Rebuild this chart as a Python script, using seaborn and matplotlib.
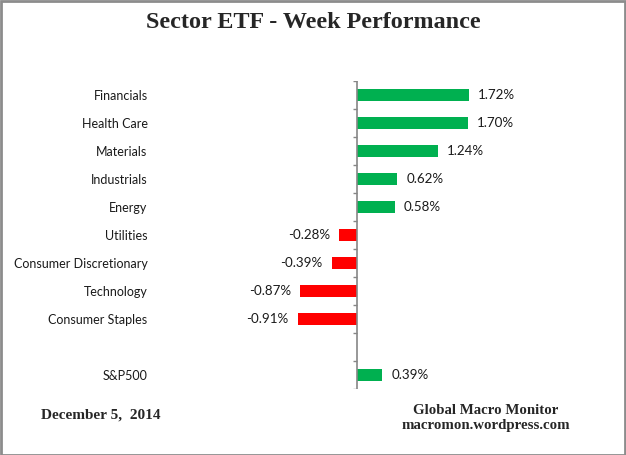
import matplotlib
matplotlib.use("Agg")
import matplotlib.pyplot as plt
import seaborn as sns
import pandas as pd
from matplotlib.patches import Rectangle

categories = ["Financials", "Health Care", "Materials", "Industrials", "Energy",
              "Utilities", "Consumer Discretionary", "Technology", "Consumer Staples",
              " ", "S&P500"]
values = [1.72, 1.70, 1.24, 0.62, 0.58, -0.28, -0.39, -0.87, -0.91, None, 0.39]
title = "Sector ETF - Week Performance"
date_text = "December 5,  2014"
source_lines = ["Global Macro Monitor", "macromon.wordpress.com"]

GREEN = "#00B050"
RED = "#FF0000"
AXIS = "#868686"

df = pd.DataFrame({"sector": categories, "change": values}).dropna()
palette = {c: (GREEN if (v is not None and v >= 0) else RED) for c, v in zip(categories, values)}

sns.set_theme(style="white")
plt.rcParams["font.family"] = ["Lato", "DejaVu Sans"]

W, H = 626, 455
fig = plt.figure(figsize=(W / 100, H / 100), dpi=100)
fig.patch.set_facecolor("white")

# axes geometry in pixels
zero_px, scale = 357.0, 65.1
left_px, right_px = 149.0, 520.0
top_px, bot_px = 81.0, 389.0
ax = fig.add_axes([left_px / W, (H - bot_px) / H, (right_px - left_px) / W, (bot_px - top_px) / H])

sns.barplot(data=df, y="sector", x="change", order=categories, hue="sector",
            palette=palette, legend=False, width=0.4, orient="h", ax=ax,
            saturation=1, edgecolor="none")

ax.set_xlim((left_px - zero_px) / scale, (right_px - zero_px) / scale)
ax.set_ylim(len(categories) - 0.5, -0.5)
for s in ax.spines.values():
    s.set_visible(False)
ax.set_xticks([])
ax.set_xlabel("")
ax.set_ylabel("")
ax.tick_params(axis="y", length=0, pad=1, labelsize=9, labelcolor="#1a1a1a")
ax.set_yticks(range(len(categories)))
ax.set_yticklabels(categories)

# zero axis with tick marks at category boundaries
ax.axvline(0, color=AXIS, lw=1.2)
tick_len = 4.0 / scale
ax.hlines([i - 0.5 for i in range(len(categories) + 1)], -tick_len, 0, color=AXIS, lw=1)

off = 9.0 / scale
for i, v in enumerate(values):
    if v is None:
        continue
    if v >= 0:
        ax.text(v + off, i, f"{v:.2f}%", ha="left", va="center", fontsize=9.6, color="#1a1a1a")
    else:
        ax.text(v - off, i, f"{v:.2f}%", ha="right", va="center", fontsize=9.6, color="#1a1a1a")

serif = ["Liberation Serif", "DejaVu Serif"]
fig.text(0.5, 1 - 22 / H, title, ha="center", va="center", fontsize=17.4, fontweight="bold",
         family=serif)
fig.text(41 / W, 1 - 415 / H, date_text, ha="left", va="center", fontsize=11,
         fontweight="bold", family=serif)
fig.text(486 / W, 1 - 410 / H, source_lines[0], ha="center", va="center", fontsize=10.7,
         fontweight="bold", family=serif)
fig.text(486 / W, 1 - 426 / H, source_lines[1], ha="center", va="center", fontsize=10.7,
         fontweight="bold", family=serif)

fig.add_artist(Rectangle((0.5 / W, 0.5 / H), 1 - 1.5 / W, 1 - 1.5 / H, transform=fig.transFigure,
                         fill=False, edgecolor="#8c8c8c", lw=2))

fig.savefig("out.png", dpi=100, facecolor="white")
